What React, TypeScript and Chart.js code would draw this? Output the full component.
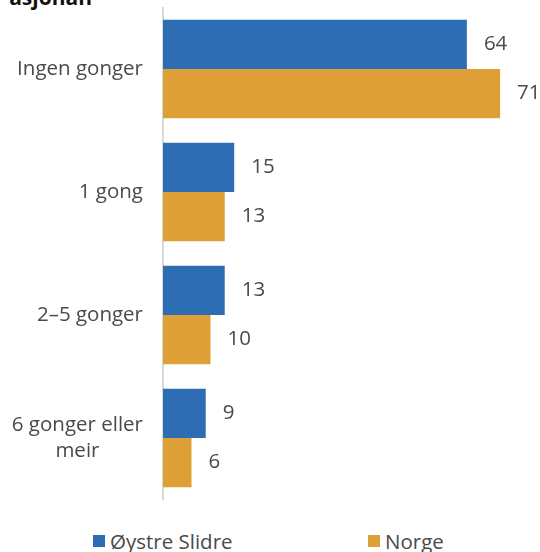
import React, { useEffect, useRef } from "react";
import { Chart, registerables } from "chart.js";

Chart.register(...registerables);

const categories: string[][] = [["Ingen gonger"], ["1 gong"], ["2–5 gonger"], ["6 gonger eller", "meir"]];
const seriesNames = ["Øystre Slidre", "Norge"];
const oystreSlidre = [64, 15, 13, 9];
const norge = [71, 13, 10, 6];
const colors = ["#2d6db4", "#de9f37"];
const FONT = "'Open Sans', Roboto, sans-serif";
const TEXT = "#4a4a4a";

const labelPlugin = {
  id: "customLabels",
  afterDraw(chart: any) {
    const ctx = chart.ctx;
    ctx.save();
    ctx.font = `20.5px ${FONT}`;
    ctx.fillStyle = TEXT;
    // value labels
    chart.data.datasets.forEach((ds: any, di: number) => {
      const meta = chart.getDatasetMeta(di);
      meta.data.forEach((bar: any, i: number) => {
        ctx.textAlign = "left";
        ctx.textBaseline = "middle";
        ctx.fillText(String(ds.data[i]), bar.x + 17, bar.y);
      });
    });
    // category labels
    const yScale = chart.scales.y;
    const right = chart.chartArea.left - 20;
    categories.forEach((lines, i) => {
      const yc = yScale.getPixelForTick(i);
      const widths = lines.map((l) => ctx.measureText(l).width);
      const maxW = Math.max(...widths);
      const lh = 26;
      const y0 = yc - ((lines.length - 1) * lh) / 2;
      lines.forEach((l, j) => {
        ctx.textAlign = "center";
        ctx.textBaseline = "middle";
        ctx.fillText(l, right - maxW / 2, y0 + j * lh);
      });
    });
    ctx.restore();
  },
};

export default function App() {
  const ref = useRef<HTMLCanvasElement>(null);
  useEffect(() => {
    const chart = new Chart(ref.current!, {
      type: "bar",
      data: {
        labels: categories.map((c) => c.join(" ")),
        datasets: [
          { label: seriesNames[0], data: oystreSlidre, backgroundColor: colors[0], categoryPercentage: 0.8, barPercentage: 1 },
          { label: seriesNames[1], data: norge, backgroundColor: colors[1], categoryPercentage: 0.8, barPercentage: 1 },
        ],
      },
      options: {
        indexAxis: "y",
        animation: false,
        responsive: false,
        layout: { padding: { left: 163, top: 7.5, right: 0, bottom: 20.5 } },
        plugins: { legend: { display: false }, tooltip: { enabled: false } },
        scales: {
          x: { display: false, min: 0, max: 79.4 },
          y: {
            ticks: { display: false },
            grid: { display: false, drawTicks: false },
            border: { display: true, color: "#d9d9d9", width: 2 },
          },
        },
      },
      plugins: [labelPlugin],
    });
    return () => chart.destroy();
  }, []);

  const legendText: React.CSSProperties = { position: "absolute", top: 527, font: `20.5px ${FONT}`, color: TEXT, lineHeight: "28px", whiteSpace: "nowrap" };
  return (
    <div style={{ position: "fixed", left: 0, top: 0, width: 540, height: 552, background: "#fff", overflow: "hidden" }}>
      <div style={{ position: "absolute", right: 448, top: -16, font: `bold 21px ${FONT}`, color: "#111", whiteSpace: "nowrap", lineHeight: "26px" }}>asjonan</div>
      <canvas ref={ref} width={540} height={520} style={{ position: "absolute", left: 0, top: 0 }} />
      <div style={{ position: "absolute", left: 93, top: 535, width: 12, height: 12, background: colors[0] }} />
      <div style={{ ...legendText, left: 110 }}>{seriesNames[0]}</div>
      <div style={{ position: "absolute", left: 368, top: 535, width: 12, height: 12, background: colors[1] }} />
      <div style={{ ...legendText, left: 385 }}>{seriesNames[1]}</div>
    </div>
  );
}
